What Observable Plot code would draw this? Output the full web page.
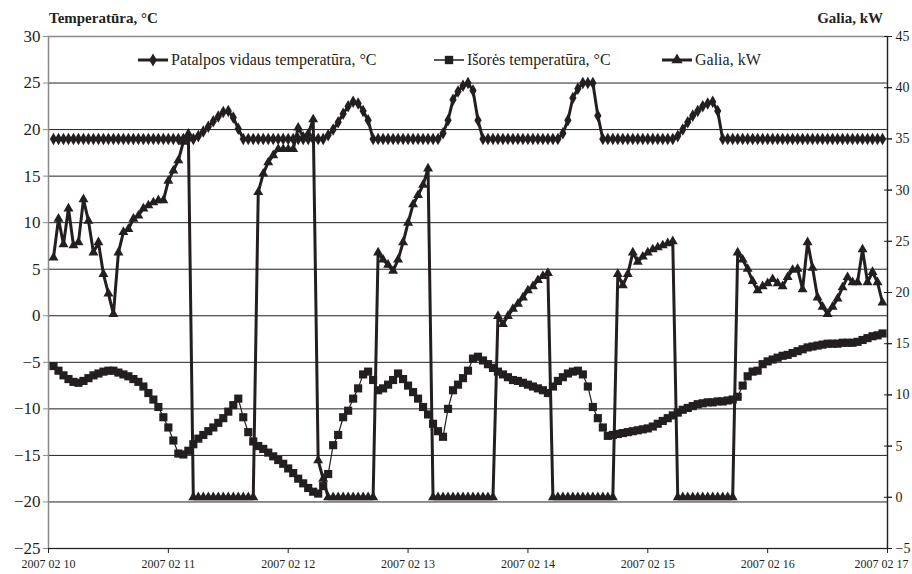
<!DOCTYPE html>
<html><head><meta charset="utf-8">
<script src="https://cdn.jsdelivr.net/npm/d3@7"></script>
<script src="https://cdn.jsdelivr.net/npm/@observablehq/plot@0.6"></script>
<style>
body{margin:0;background:#fff;}
#chart{position:relative;width:912px;height:574px;}
</style></head><body><div id="chart"></div>
<script>
// hourly readings starting 2007-02-10 01:00
const startTime = "2007-02-10T01:00:00Z";
const indoorTemp = [
19,19,19,19,19,19,19,19,19,19,19,19,19,19,19,19,19,19,19,19,19,19,19,19,19,19,19,19,
19,19.3,19.8,20.3,20.9,21.4,21.9,22.0,21.3,20.1,19,
19,19,19,19,19,19,19,19,19,19,19,19,19,19,19,
19,19.4,20.0,20.8,21.7,22.5,23.0,22.8,22.0,21.0,19,
19,19,19,19,19,19,19,19,19,19,19,19,
19,19.6,21.0,23.2,24.1,24.7,25.0,24.2,21.0,19,
19,19,19,19,19,19,19,19,19,19,19,19,19,19,
19,19.6,21.0,23.4,24.4,25.0,25.0,25.0,21.5,19,
19,19,19,19,19,19,19,19,19,19,19,19,19,19,
19.3,20.0,20.8,21.5,22.0,22.5,22.8,23.0,22.0,19,
19,19,19,19,19,19,19,19,19,19,19,19,19,19,19,19,19,19,19,19,19,19,19,19,19,19,19,19,19,19,19,19
];
const outdoorTemp = [
-5.4,-5.9,-6.4,-6.8,-7.1,-7.2,-7.0,-6.7,-6.4,-6.2,
-6.0,-5.9,-5.9,-6.1,-6.3,-6.5,-6.8,-7.1,-7.6,-8.3,
-9.0,-9.8,-10.9,-12.0,-13.4,-14.8,-14.9,-14.5,-13.8,-13.2,
-12.8,-12.4,-12.0,-11.5,-11.0,-10.3,-9.6,-8.9,-10.9,-12.5,
-13.5,-14.0,-14.3,-14.7,-15.1,-15.5,-15.9,-16.4,-16.9,-17.5,
-18.0,-18.5,-18.9,-19.1,-18.3,-17.0,-13.9,-12.8,-10.9,-10.2,
-8.9,-7.8,-6.3,-6.0,-6.9,-8.0,-7.8,-7.4,-6.9,-6.2,
-6.8,-7.5,-8.2,-8.9,-9.8,-10.6,-11.6,-12.4,-13.0,-10.0,
-8.0,-7.4,-6.7,-5.9,-4.6,-4.4,-4.8,-5.2,-5.6,-6.0,
-6.3,-6.6,-6.9,-7.0,-7.2,-7.4,-7.6,-7.8,-8.0,-8.3,
-7.6,-7.0,-6.6,-6.2,-6.0,-5.9,-6.3,-7.6,-9.8,-11.0,
-12.0,-12.9,-12.8,-12.7,-12.6,-12.5,-12.4,-12.3,-12.2,-12.1,
-11.9,-11.6,-11.3,-11.0,-10.7,-10.4,-10.1,-9.9,-9.7,-9.5,
-9.4,-9.3,-9.3,-9.2,-9.2,-9.1,-9.0,-8.7,-7.5,-6.5,
-6.0,-5.9,-5.2,-4.9,-4.7,-4.5,-4.3,-4.2,-4.0,-3.8,
-3.6,-3.4,-3.3,-3.2,-3.1,-3.0,-3.0,-3.0,-2.9,-2.9,
-2.9,-2.8,-2.6,-2.4,-2.2,-2.1,-1.9
];
const powerKW = [
23.4,27.2,24.7,28.2,24.6,24.9,29.1,27.0,23.9,24.9,
21.8,19.9,17.9,23.9,25.9,26.2,27.2,27.5,28.2,28.5,
28.8,29.0,29.0,30.9,31.9,32.9,34.7,35.5,
0,0,0,0,0,0,0,0,0,0,0,0,0,
29.8,31.6,32.7,33.4,34.0,34.0,34.0,34.0,36.1,35.2,35.5,36.9,
3.6,1.8,
0,0,0,0,0,0,0,0,0,0,
23.9,23.2,22.7,22.1,23.2,24.9,26.8,28.6,29.5,30.5,32.1,
0,0,0,0,0,0,0,0,0,0,0,0,0,
17.7,16.9,17.7,18.4,18.9,19.5,20.2,20.6,21.2,21.6,21.9,
0,0,0,0,0,0,0,0,0,0,0,0,0,
21.8,20.7,21.8,23.9,23.0,23.5,23.9,24.2,24.4,24.6,24.8,25.0,
0,0,0,0,0,0,0,0,0,0,0,0,
23.9,23.2,22.3,21.1,20.2,20.6,20.9,21.3,20.9,20.6,21.5,22.2,22.3,20.3,24.9,22.4,19.5,18.6,17.9,18.6,19.4,20.5,21.5,21.0,21.0,24.2,21.0,22.0,21.0,19.0
];
const dateTicks = ["2007-02-10","2007-02-11","2007-02-12","2007-02-13","2007-02-14","2007-02-15","2007-02-16","2007-02-17"];
const leftTicks = [-25,-20,-15,-10,-5,0,5,10,15,20,25,30];
const rightTicks = [-5,0,5,10,15,20,25,30,35,40,45];
const seriesNames = ["Patalpos vidaus temperatūra, °C","Išorės temperatūra, °C","Galia, kW"];
const leftTitle = "Temperatūra, °C";
const rightTitle = "Galia, kW";

// right axis (-5..45) mapped onto left axis (-25..30)
const toLeft = r => -25 + (r + 5) * 55 / 50;
const toRight = l => (l + 25) * 50 / 55 - 5;
const minus = d => d < 0 ? "\u2212" + Math.abs(d) : String(d);

const t0 = new Date(startTime);
const rows = arr => arr.map((v, i) => ({t: new Date(+t0 + i * 3600e3), v}));
const inRows = rows(indoorTemp);
const outRows = rows(outdoorTemp);
const pwRows = rows(powerKW).map(d => ({t: d.t, v: toLeft(d.v)}));
const tickDates = dateTicks.map(s => new Date(s + "T00:00Z"));

const ink = "#231f20";
const font = "'Liberation Serif', 'DejaVu Serif', serif";

const chart = Plot.plot({
  width: 912, height: 574,
  marginLeft: 48, marginRight: 25, marginTop: 36, marginBottom: 26,
  style: {fontFamily: font, background: "white", color: ink, overflow: "visible"},
  x: {type: "utc", domain: [tickDates[0], tickDates[tickDates.length - 1]]},
  y: {domain: [-25, 30]},
  marks: [
    Plot.ruleY(leftTicks, {stroke: ink, strokeWidth: 1}),
    Plot.frame({stroke: "#8a8a8a", strokeWidth: 1.5}),
    Plot.ruleY([-25], {stroke: ink, strokeWidth: 1}),
    Plot.ruleX([tickDates[tickDates.length - 1]], {stroke: ink, strokeWidth: 1.2}),
    Plot.axisY(leftTicks, {anchor: "left", tickSize: 5, tickPadding: 3, fontSize: 17, tickFormat: minus, label: null, stroke: "#8a8a8a"}),
    Plot.axisY(rightTicks.map(toLeft), {anchor: "right", tickSize: 8, dx: -4, tickFormat: () => "", label: null}),
    Plot.axisY(rightTicks.map(toLeft), {anchor: "right", tickSize: 4, tickPadding: 4, fontSize: 14, tickFormat: d => minus(Math.round(toRight(d))), label: null}),
    Plot.axisX(tickDates, {tickSize: 5, text: null, label: null}),
    Plot.axisX(tickDates.slice(0, -1), {tickSize: 0, tickPadding: 11, fontSize: 12, tickFormat: d3.utcFormat("%Y %m %d"), label: null}),
    Plot.axisX(tickDates.slice(-1), {tickSize: 0, tickPadding: 11, dx: -6, fontSize: 12, tickFormat: d3.utcFormat("%Y %m %d"), label: null}),
    // outdoor
    Plot.line(outRows, {x: "t", y: "v", stroke: ink, strokeWidth: 1.2}),
    Plot.dot(outRows, {x: "t", y: "v", symbol: "square", fill: ink, r: 4.6}),
    // power
    Plot.line(pwRows, {x: "t", y: "v", stroke: ink, strokeWidth: 3, strokeLinejoin: "miter"}),
    Plot.dot(pwRows, {x: "t", y: "v", symbol: "triangle", fill: ink, r: 3.7}),
    // indoor
    Plot.line(inRows, {x: "t", y: "v", stroke: ink, strokeWidth: 3}),
    Plot.dot(inRows, {x: "t", y: "v", symbol: "diamond", fill: ink, r: 3.8})
  ]
});
document.getElementById("chart").appendChild(chart);

// titles and legend
const svg = d3.select(chart);
svg.append("text").attr("x", 49).attr("y", 23).attr("text-anchor", "start").attr("font-family", font).attr("font-weight", "bold")
  .attr("font-size", 15).attr("fill", ink).text(leftTitle);
svg.append("text").attr("x", 883).attr("y", 23).attr("text-anchor", "end").attr("font-family", font).attr("font-weight", "bold")
  .attr("font-size", 15).attr("fill", ink).text(rightTitle);
const legendItems = [
  {x: 138, sym: d3.symbolDiamond, size: 50, lw: 3},
  {x: 434, sym: d3.symbolSquare, size: 70, lw: 1.5},
  {x: 662, sym: d3.symbolTriangle, size: 55, lw: 3}
];
const lg = svg.append("g");
legendItems.forEach((it, i) => {
  const g = lg.append("g").attr("transform", `translate(${it.x},60)`);
  g.append("line").attr("x1", 0).attr("x2", 30).attr("y1", 0).attr("y2", 0).attr("stroke", ink).attr("stroke-width", it.lw);
  g.append("path").attr("d", d3.symbol(it.sym, it.size)()).attr("transform", "translate(15,0)").attr("fill", ink);
  g.append("text").attr("x", 33).attr("y", 5).attr("text-anchor", "start").attr("font-family", font).attr("font-size", 16).attr("fill", ink).text(seriesNames[i]);
});
</script></body></html>
